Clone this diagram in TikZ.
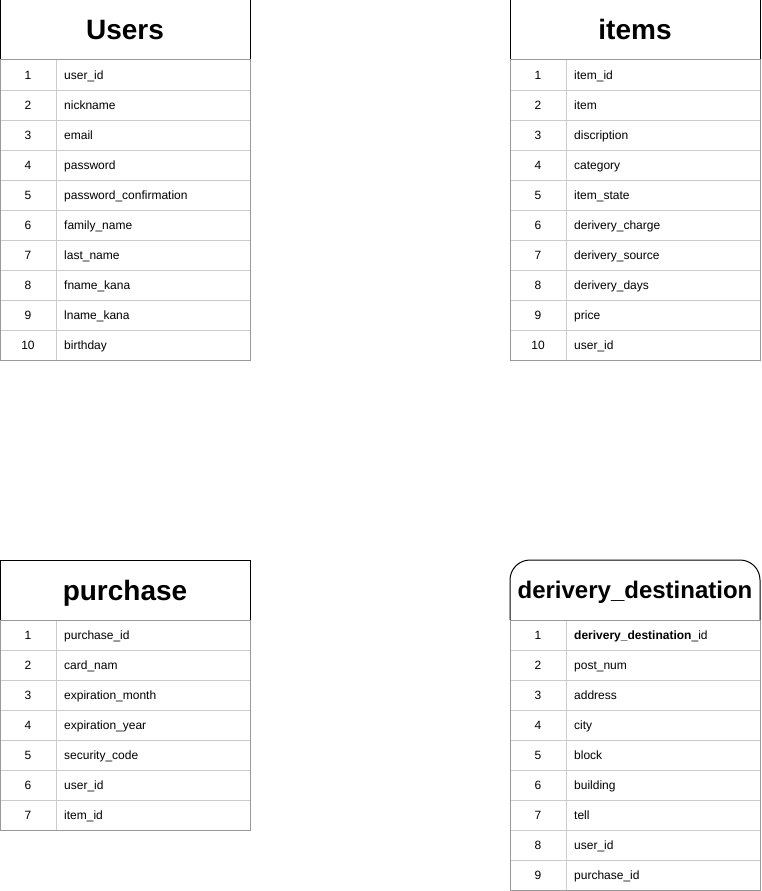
\documentclass[tikz,border=0pt]{standalone}
\usepackage{fontspec}
\setmainfont{Liberation Sans}
\usetikzlibrary{positioning}
\tikzset{
  hdr/.style={font=\fontsize{28}{32}\selectfont\bfseries,text height=20pt,text depth=6pt,inner sep=0pt},
  hdrsmall/.style={font=\fontsize{24}{28}\selectfont\bfseries,text height=17pt,text depth=5pt,inner sep=0pt},
  num/.style={font=\fontsize{12}{14}\selectfont,text height=9pt,text depth=3pt,inner sep=0pt},
  fld/.style={font=\fontsize{12}{14}\selectfont,anchor=west,text height=9pt,text depth=3pt,inner sep=0pt},
  rowline/.style={draw=gray!40,line width=1pt},
  frame/.style={draw=gray!80,line width=1pt},
  head/.style={draw=black,line width=1pt}
}
% rows of one table: name, x, y, number of rows, fields
\newcommand{\erdrows}[5]{%
  \foreach \f [count=\i] in {#5}
  {
    \node[num] (#1-n\i) at ({#2+28},{#3+76.5+30*(\i-1)}) {\i};
    \node[fld] (#1-f\i) at ({#2+64},{#3+76.5+30*(\i-1)}) {\f};
    \draw[rowline] (#2,{#3+60+30*\i})--({#2+250},{#3+60+30*\i});
  }
  \draw[rowline] ({#2+56},{#3+60})--({#2+56},{#3+60+30*#4});
  \draw[frame] (#2,{#3+60}) rectangle ({#2+250},{#3+60+30*#4});
}
\begin{document}
\begin{tikzpicture}[x=1pt,y=-1pt]
\useasboundingbox (0,0) rectangle (761,891);
%Users
\draw[head] (0,60)--(0,0)--(250,0)--(250,60);
\node[hdr] (users) at (125,33) {Users};
\erdrows{users}{0}{0}{10}{user\_id,nickname,email,password,password\_confirmation,family\_name,last\_name,fname\_kana,lname\_kana,birthday}
%items
\draw[head] (510,60)--(510,0)--(760,0)--(760,60);
\node[hdr] (items) at (635,33) {items};
\erdrows{items}{510}{0}{10}{item\_id,item,discription,category,item\_state,derivery\_charge,derivery\_source,derivery\_days,price,user\_id}
%purchase
\draw[head] (0,620)--(0,560)--(250,560)--(250,620);
\node[hdr] (purchase) at (125,593) {purchase};
\erdrows{purchase}{0}{560}{7}{purchase\_id,card\_nam,expiration\_month,expiration\_year,security\_code,user\_id,item\_id}
%derivery_destination
\draw[head,rounded corners=20] (510,620)--(510,560)--(760,560)--(760,620);
\node[hdrsmall] (dest) at (635,592.5) {derivery\_destination};
\erdrows{dest}{510}{560}{9}{{\textbf{derivery\_destination}\_id},post\_num,address,city,block,building,tell,user\_id,purchase\_id}
\end{tikzpicture}
\end{document}
